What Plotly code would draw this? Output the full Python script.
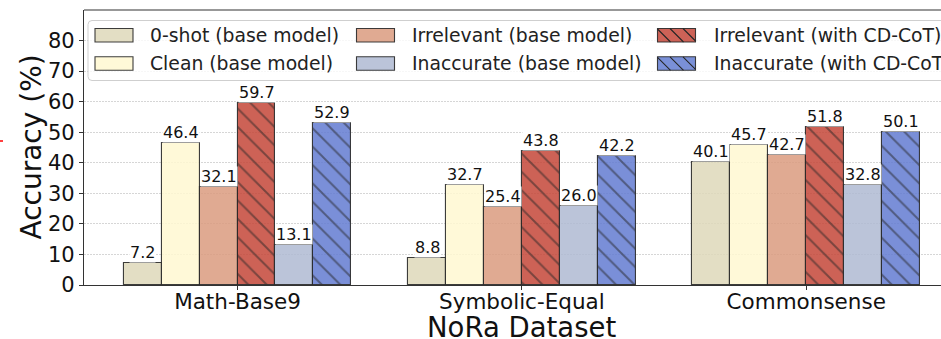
import plotly.graph_objects as go

# ---- data -------------------------------------------------------------
categories = ["Math-Base9", "Symbolic-Equal", "Commonsense"]
series_names = [
    "0-shot (base model)",
    "Clean (base model)",
    "Irrelevant (base model)",
    "Irrelevant (with CD-CoT)",
    "Inaccurate (base model)",
    "Inaccurate (with CD-CoT)",
]
zero_shot = [7.2, 8.8, 40.1]
clean = [46.4, 32.7, 45.7]
irrelevant_base = [32.1, 25.4, 42.7]
irrelevant_cdcot = [59.7, 43.8, 51.8]
inaccurate_base = [13.1, 26.0, 32.8]
inaccurate_cdcot = [52.9, 42.2, 50.1]
y_ticks = [0, 10, 20, 30, 40, 50, 60, 70, 80]

series_values = [zero_shot, clean, irrelevant_base,
                 irrelevant_cdcot, inaccurate_base, inaccurate_cdcot]

# ---- style ------------------------------------------------------------
FONT = "DejaVu Sans"
ALPHA = 0.85
fill_rgb = [(222, 216, 186), (255, 248, 209), (219, 155, 127),
            (196, 70, 57), (175, 186, 210), (99, 124, 209)]
hatched = [False, False, False, True, False, True]
EDGE = "rgba(40,40,40,0.9)"
HATCH = "#262626"

W, H = 941, 339
ML, MR, MT, MB = 84, 0, 10, 54
PW, PH = W - ML - MR, H - MT - MB
bar_w = 0.8 / 6
x_range = [-0.54, 2.474]
y_range = [0, 90]


def rgba(c, a=ALPHA):
    return f"rgba({c[0]},{c[1]},{c[2]},{a})"


def px(x):
    """pixel column -> paper x"""
    return (x - ML) / PW


def py(y):
    """pixel row -> paper y"""
    return (H - MB - y) / PH


fig = go.Figure()

# ---- grouped bars -----------------------------------------------------
annotations = []
for k, (name, vals) in enumerate(zip(series_names, series_values)):
    xs = [g + (k - 2.5) * bar_w for g in range(len(categories))]
    pattern = dict(shape="\\", fgcolor=HATCH, size=13, solidity=0.15) if hatched[k] else dict(shape="")
    fig.add_trace(go.Bar(
        x=xs, y=vals, width=bar_w, name=name, showlegend=False,
        marker=dict(color=rgba(fill_rgb[k]), line=dict(color=EDGE, width=1.1),
                    pattern=pattern),
        hoverinfo="skip",
    ))
    for xv, v in zip(xs, vals):
        annotations.append(dict(
            x=xv, y=v, xref="x", yref="y", text=f"{v:.1f}", showarrow=False,
            xanchor="center", yanchor="bottom", yshift=0,
            font=dict(family=FONT, size=16, color="#111"),
            bgcolor="white", borderpad=0,
        ))

# ---- axis titles ------------------------------------------------------
annotations.append(dict(
    x=1, y=py(339), xref="x", yref="paper", text="NoRa Dataset", showarrow=False,
    xanchor="center", yanchor="bottom", yshift=-6,
    font=dict(family=FONT, size=27.5, color="#111"),
))
annotations.append(dict(
    x=px(31), y=0.5, xref="paper", yref="paper", text="Accuracy (%)", showarrow=False,
    textangle=-90, xanchor="center", yanchor="middle",
    font=dict(family=FONT, size=28, color="#111"),
))

shapes = []

# top spine
shapes.append(dict(type="line", xref="paper", yref="paper", x0=0, x1=1, y0=1, y1=1,
                   line=dict(color="#333", width=1.2)))

# small red mark at the left edge
shapes.append(dict(type="line", xref="paper", yref="paper",
                   x0=px(0), x1=px(3), y0=py(141), y1=py(141),
                   line=dict(color="red", width=1.5)))

# ---- legend (three columns, two rows) ----------------------------------
lx0, lx1, ly0, ly1, r = 88, 965, 20.5, 80.5, 4
rx, ry = r / PW, r / PH
X0, X1, Y0, Y1 = px(lx0), px(lx1), py(ly0), py(ly1)
frame = (f"M{X0 + rx},{Y0} L{X1 - rx},{Y0} Q{X1},{Y0} {X1},{Y0 - ry} "
         f"L{X1},{Y1 + ry} Q{X1},{Y1} {X1 - rx},{Y1} L{X0 + rx},{Y1} "
         f"Q{X0},{Y1} {X0},{Y1 + ry} L{X0},{Y0 - ry} Q{X0},{Y0} {X0 + rx},{Y0} Z")
shapes.append(dict(type="path", xref="paper", yref="paper", path=frame,
                   fillcolor="rgba(255,255,255,0.8)", line=dict(color="#cfcfcf", width=1)))

col_swatch_x = [95, 356.5, 657.5]
col_text_x = [148, 410, 711.5]
row_swatch_y = [28.5, 56.8]
row_text_y = [35.5, 63.5]
sw_w, sw_h = 38, 13.5
legend_order = [0, 1, 2, 4, 3, 5]  # column-major placement

for slot, k in enumerate(legend_order):
    col, row = divmod(slot, 2)
    sx, sy = col_swatch_x[col], row_swatch_y[row]
    shapes.append(dict(type="rect", xref="paper", yref="paper",
                       x0=px(sx), x1=px(sx + sw_w), y0=py(sy), y1=py(sy + sw_h),
                       fillcolor=rgba(fill_rgb[k]), line=dict(color=EDGE, width=1.1)))
    if hatched[k]:
        step = 13
        segs = []
        d = -sw_h
        while d < sw_w:
            xa, ya = sx + d, sy
            xb, yb = sx + d + sw_h, sy + sw_h
            if xa < sx:
                ya += sx - xa
                xa = sx
            if xb > sx + sw_w:
                yb -= xb - (sx + sw_w)
                xb = sx + sw_w
            if xb > xa:
                segs.append(f"M{px(xa)},{py(ya)} L{px(xb)},{py(yb)}")
            d += step
        shapes.append(dict(type="path", xref="paper", yref="paper", path=" ".join(segs),
                           line=dict(color=HATCH, width=1.1)))
    annotations.append(dict(
        x=px(col_text_x[col]), y=py(row_text_y[row]), xref="paper", yref="paper",
        text=series_names[k], showarrow=False, xanchor="left", yanchor="middle",
        font=dict(family=FONT, size=18.8, color="#222"),
    ))

fig.update_layout(
    width=W, height=H,
    margin=dict(l=ML, r=MR, t=MT, b=MB, autoexpand=False),
    paper_bgcolor="white", plot_bgcolor="white",
    barmode="overlay", bargap=0,
    showlegend=False,
    annotations=annotations, shapes=shapes,
    font=dict(family=FONT, color="#111"),
    xaxis=dict(
        range=x_range, tickmode="array", tickvals=[0, 1, 2], ticktext=categories,
        ticks="outside", ticklen=4, tickwidth=1, tickcolor="#333",
        ticklabelstandoff=-7,
        showline=True, linecolor="#333", linewidth=1.2,
        showgrid=False, zeroline=False,
        tickfont=dict(family=FONT, size=21.5, color="#111"),
    ),
    yaxis=dict(
        range=y_range, tickmode="array", tickvals=y_ticks,
        ticks="outside", ticklen=4, tickwidth=1, tickcolor="#333",
        showline=True, linecolor="#333", linewidth=1.2,
        showgrid=True, gridcolor="#d6d6d6", gridwidth=1.2, griddash="2px,1px",
        zeroline=False,
        tickfont=dict(family=FONT, size=21, color="#111"),
    ),
)

fig.write_html("out.html")
